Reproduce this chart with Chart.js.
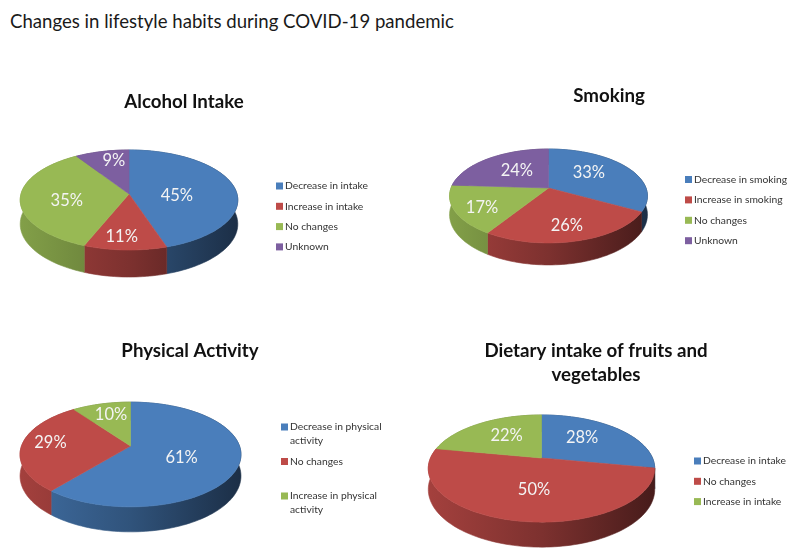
<!DOCTYPE html>
<html>
<head>
<meta charset="utf-8">
<title>Changes in lifestyle habits during COVID-19 pandemic</title>
<script src="https://cdn.jsdelivr.net/npm/chart.js@4/dist/chart.umd.min.js"></script>
<style>
  html, body { margin: 0; background: #fff; }
  #page { position: relative; width: 800px; height: 557px; overflow: hidden; }
  #heading { position: absolute; left: 10px; top: 10px; font: 18.6px Lato, sans-serif; color: #1a1a1a; white-space: nowrap; }
  canvas { position: absolute; }
</style>
</head>
<body>
<div id="page">
  <div id="heading">Changes in lifestyle habits during COVID-19 pandemic</div>
  <canvas id="alcohol" width="400" height="278" style="left:0;top:0"></canvas>
  <canvas id="smoking" width="400" height="278" style="left:400px;top:0"></canvas>
  <canvas id="physical" width="400" height="279" style="left:0;top:278px"></canvas>
  <canvas id="dietary" width="400" height="279" style="left:400px;top:278px"></canvas>
</div>
<script>
// Data
const alcoholLabels = ['Decrease in intake', 'Increase in intake', 'No changes', 'Unknown'];
const alcoholValues = [45, 11, 35, 9];
const smokingLabels = ['Decrease in smoking', 'Increase in smoking', 'No changes', 'Unknown'];
const smokingValues = [33, 26, 17, 24];
const physicalLabels = [['Decrease in physical', 'activity'], ['No changes'], ['Increase in physical', 'activity']];
const physicalValues = [61, 29, 10];
const dietaryLabels = ['Decrease in intake', 'No changes', 'Increase in intake'];
const dietaryValues = [28, 50, 22];

const sliceColors = ['#4a7ebb', '#be4b48', '#98b954', '#7d5fa0'];
const textFont = 'Lato, sans-serif';

// multiply a hex colour, used for the side wall of the pie
const shade = (hex, f) => {
  const n = parseInt(hex.slice(1), 16);
  return `rgb(${(n >> 16) * f | 0}, ${((n >> 8) & 255) * f | 0}, ${(n & 255) * f | 0})`;
};

// Excel style 3D pie: the arcs come from the library, only the projection is ours
const pie3d = {
  id: 'pie3d',
  afterLayout(chart, args, o) {
    const t = chart.titleBlock;
    t.left = o.titleX - 195;
    t.right = o.titleX + 195;
    t.top = o.titleY;
  },
  beforeDatasetDraw() {
    return false;
  },
  afterDatasetsDraw(chart, args, o) {
    const ctx = chart.ctx;
    const arcs = chart.getDatasetMeta(0).data;
    const colors = chart.data.datasets[0].backgroundColor;
    const scaleAt = v => 1 / (1 - o.k * v);
    const project = a => {
      const u = Math.cos(a), v = Math.sin(a), s = scaleAt(v);
      return [o.cx + o.rx * u * s, o.cy + o.ry * v * s, s];
    };
    const rim = (from, to) => {
      const n = Math.max(2, Math.ceil((to - from) / 0.03));
      const pts = [];
      for (let i = 0; i <= n; i++) pts.push(project(from + (to - from) * i / n));
      return pts;
    };
    const fillPath = (pts, fill) => {
      ctx.beginPath();
      pts.forEach((p, i) => (i ? ctx.lineTo(p[0], p[1]) : ctx.moveTo(p[0], p[1])));
      ctx.closePath();
      ctx.fillStyle = fill;
      ctx.strokeStyle = fill;
      ctx.lineWidth = 0.6;
      ctx.fill();
      ctx.stroke();
    };
    ctx.save();

    // side walls first, the top faces cover whatever is behind
    arcs.forEach((arc, i) => {
      const top = rim(arc.startAngle, arc.endAngle);
      const bottom = top.map(p => [p[0], p[1] + o.depth * p[2] * (1 - o.k)]).reverse();
      const grad = ctx.createLinearGradient(o.cx - o.rx, 0, o.cx + o.rx, 0);
      grad.addColorStop(0, shade(colors[i], 0.86));
      grad.addColorStop(0.5, shade(colors[i], 0.66));
      grad.addColorStop(1, shade(colors[i], 0.38));
      fillPath(top.concat(bottom), grad);
    });

    arcs.forEach((arc, i) => {
      fillPath([[o.cx, o.cy]].concat(rim(arc.startAngle, arc.endAngle)), colors[i]);
    });

    // percent labels
    ctx.font = '16.5px ' + textFont;
    ctx.fillStyle = '#f4f4f4';
    ctx.textAlign = 'center';
    ctx.textBaseline = 'middle';
    arcs.forEach((arc, i) => {
      const p = project((arc.startAngle + arc.endAngle) / 2);
      const x = o.cx + (p[0] - o.cx) * 0.6 + o.nudge[i][0];
      const y = o.cy + (p[1] - o.cy) * 0.6 + o.nudge[i][1];
      ctx.fillText(chart.data.datasets[0].data[i] + '%', x, y);
    });

    // legend
    ctx.font = '10.3px ' + textFont;
    ctx.textAlign = 'left';
    let y = o.legendY;
    chart.data.labels.forEach((label, i) => {
      ctx.fillStyle = colors[i];
      ctx.fillRect(o.legendX, y - 3.5, 7, 7);
      ctx.fillStyle = '#333';
      [].concat(label).forEach((line, j) => ctx.fillText(line, o.legendX + 9, y + j * 14));
      y += o.legendGap;
    });
    ctx.restore();
  }
};

const makePie = (id, labels, values, title, opts) => new Chart(document.getElementById(id), {
  type: 'pie',
  data: {
    labels: labels,
    datasets: [{ data: values, backgroundColor: sliceColors.slice(0, values.length) }]
  },
  options: {
    responsive: false,
    animation: false,
    plugins: {
      legend: { display: false },
      tooltip: { enabled: false },
      title: {
        display: true,
        text: title,
        color: '#111',
        padding: 0,
        font: { family: textFont, size: 18.7, weight: 'bold', lineHeight: 1.3 }
      },
      pie3d: opts
    }
  },
  plugins: [pie3d]
});

makePie('alcohol', alcoholLabels, alcoholValues, 'Alcohol Intake', {
  cx: 129, cy: 194, rx: 108, ry: 49.3, k: 0.12, depth: 27,
  titleX: 184, titleY: 90,
  legendX: 276, legendY: 186, legendGap: 20.3,
  nudge: [[-15, 6.5], [-5, 9], [3, 4], [1, -8]]
});

makePie('smoking', smokingLabels, smokingValues, 'Smoking', {
  cx: 148.5, cy: 188, rx: 97.5, ry: 45.6, k: 0.17, depth: 22,
  titleX: 209, titleY: 84,
  legendX: 285, legendY: 179.5, legendGap: 20.4,
  nudge: [[-6, -3], [1, 6], [-10, 6], [4, 0]]
});

makePie('physical', physicalLabels, physicalValues, 'Physical Activity', {
  cx: 130.5, cy: 168, rx: 109, ry: 51, k: 0.162, depth: 25,
  titleX: 190, titleY: 61,
  legendX: 281, legendY: 149, legendGap: 34.5,
  nudge: [[-14, 1], [-15, -2], [-2, -6]]
});

makePie('dietary', dietaryLabels, dietaryValues, ['Dietary intake of fruits and', 'vegetables'], {
  cx: 141.5, cy: 180, rx: 111, ry: 51.5, k: 0.197, depth: 25,
  titleX: 196, titleY: 61,
  legendX: 294, legendY: 183, legendGap: 20.3,
  nudge: [[-5, -3], [8, -6], [2, -2]]
});
</script>
</body>
</html>
